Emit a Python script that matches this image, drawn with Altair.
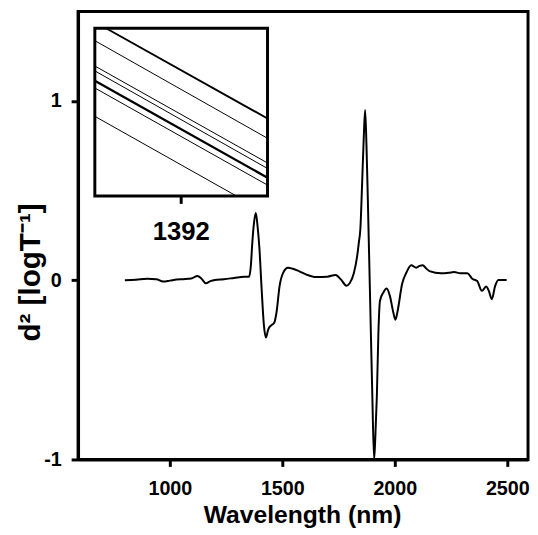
import altair as alt
import pandas as pd

# main second-derivative spectrum
wavelength = [800, 850, 900, 940, 970, 1000, 1030, 1060, 1095, 1123, 1140, 1160, 1180, 1200,
              1240, 1285, 1330, 1352, 1360, 1366, 1374, 1382, 1390, 1398, 1408, 1418, 1427,
              1437, 1452, 1464, 1474, 1488, 1503, 1525, 1547, 1575, 1605, 1650, 1700, 1737,
              1760, 1785, 1800, 1818, 1832, 1840, 1847, 1854, 1862, 1868, 1874, 1880, 1890,
              1900, 1908, 1914, 1920, 1927, 1934, 1949, 1964, 1978, 1993, 2003, 2014, 2032,
              2051, 2073, 2095, 2110, 2124, 2140, 2154, 2205, 2240, 2263, 2292, 2322, 2344,
              2366, 2387, 2406, 2418, 2431, 2446, 2460, 2497]
d2 = [0.0, 0.003, 0.008, 0.006, -0.007, -0.002, 0.004, 0.006, 0.01, 0.024, 0.01, -0.017,
      -0.005, 0.002, 0.006, 0.013, 0.02, 0.02, 0.08, 0.2, 0.32, 0.375, 0.3, 0.18, -0.05,
      -0.25, -0.32, -0.275, -0.25, -0.237, -0.18, -0.03, 0.04, 0.07, 0.064, 0.05, 0.033,
      0.018, 0.02, 0.03, 0.005, -0.03, -0.015, 0.04, 0.13, 0.21, 0.29, 0.52, 0.8, 0.95,
      0.75, 0.45, -0.1, -0.65, -1.0, -0.85, -0.65, -0.29, -0.114, -0.068, -0.046, -0.087,
      -0.178, -0.22, -0.16, -0.022, 0.042, 0.084, 0.07, 0.08, 0.084, 0.065, 0.051, 0.039,
      0.042, 0.046, 0.039, 0.039, 0.009, -0.004, -0.059, -0.035, -0.06, -0.105, -0.031,
      0.002, 0.002]

x_ticks = [1000, 1500, 2000, 2500]
y_ticks = [-1, 0, 1]

# inset: zoom around 1392 nm, several spectra
inset_x0 = [1390.26, 1390.0, 1390.0, 1390.0, 1390.0, 1390.0, 1390.0]
inset_y0 = [0.380, 0.3726, 0.3575, 0.3546, 0.3487, 0.3444, 0.3275]
inset_x1 = [1394.0, 1394.0, 1394.0, 1394.0, 1394.0, 1394.0, 1393.28]
inset_y1 = [0.3262, 0.3144, 0.2997, 0.2964, 0.2909, 0.2865, 0.280]
inset_w = [2.0, 1.0, 1.0, 1.0, 2.4, 1.0, 1.0]
inset_box_x = [1390, 1394]
inset_box_y = [0.28, 0.38]
inset_tick_y = [0.28, 0.2753]
inset_label = "1392"
inset_label_x = 1392
inset_label_y = 0.2582

FONT = "Liberation Sans"

main_df = pd.DataFrame({"nm": wavelength, "d2": d2})

main = alt.Chart(main_df).mark_line(color="black", strokeWidth=2, interpolate="monotone").encode(
    x=alt.X("nm:Q", scale=alt.Scale(domain=[592, 2592], nice=False, zero=False),
            axis=alt.Axis(values=x_ticks, labelExpr="'' + datum.value", title="Wavelength (nm)",
                          titleFontSize=25, titleX=227, titleY=44, labelPadding=12)),
    y=alt.Y("d2:Q", scale=alt.Scale(domain=[-1, 1.5], nice=False, zero=False),
            axis=alt.Axis(values=y_ticks, labelExpr="'' + datum.value", title="d² [logT⁻¹]",
                          titleFontSize=30, titleX=-48, titleY=264, titleBaseline="middle",
                          labelPadding=10)),
)

xs = alt.Scale(domain=[1390, 1394], range=[17, 192], nice=False, zero=False)
ys = alt.Scale(domain=[0.28, 0.38], range=[187, 17], nice=False, zero=False)

box_df = pd.DataFrame({"x": [inset_box_x[0]], "x2": [inset_box_x[1]],
                       "y": [inset_box_y[0]], "y2": [inset_box_y[1]]})
box = alt.Chart(box_df).mark_rect(fill="white", stroke="black", strokeWidth=3).encode(
    x=alt.X("x:Q", scale=xs, axis=None), x2="x2:Q",
    y=alt.Y("y:Q", scale=ys, axis=None), y2="y2:Q")

lines_df = pd.DataFrame({"x": inset_x0, "y": inset_y0, "x2": inset_x1, "y2": inset_y1, "w": inset_w})
lines = alt.Chart(lines_df).mark_rule(color="black").encode(
    x=alt.X("x:Q", scale=xs, axis=None), x2="x2:Q",
    y=alt.Y("y:Q", scale=ys, axis=None), y2="y2:Q",
    strokeWidth=alt.StrokeWidth("w:Q", scale=None))

tick_df = pd.DataFrame({"x": [inset_label_x], "y": [inset_tick_y[0]], "y2": [inset_tick_y[1]]})
tick = alt.Chart(tick_df).mark_rule(color="black", strokeWidth=3).encode(
    x=alt.X("x:Q", scale=xs, axis=None),
    y=alt.Y("y:Q", scale=ys, axis=None), y2="y2:Q")

label_df = pd.DataFrame({"x": [inset_label_x], "y": [inset_label_y], "t": [inset_label]})
label = alt.Chart(label_df).mark_text(font=FONT, fontWeight="bold", fontSize=26, color="black",
                                      baseline="middle", align="center").encode(
    x=alt.X("x:Q", scale=xs, axis=None),
    y=alt.Y("y:Q", scale=ys, axis=None), text="t:N")

inset = alt.layer(box, lines, tick, label)

chart = alt.layer(main, inset).resolve_scale(x="independent", y="independent").properties(
    width=456, height=454,
    autosize=alt.AutoSizeParams(type="none"),
    padding={"left": 71, "top": 0, "right": 2, "bottom": 72},
).configure_view(stroke="black", strokeWidth=3).configure_axis(
    grid=False, domainColor="black", domainWidth=3, tickColor="black", tickWidth=3, tickSize=7,
    labelFont=FONT, labelFontWeight="bold", labelFontSize=20, labelColor="black",
    titleFont=FONT, titleFontWeight="bold", titleColor="black",
)

chart.save("out.html", embed_options={"renderer": "svg", "actions": False})
